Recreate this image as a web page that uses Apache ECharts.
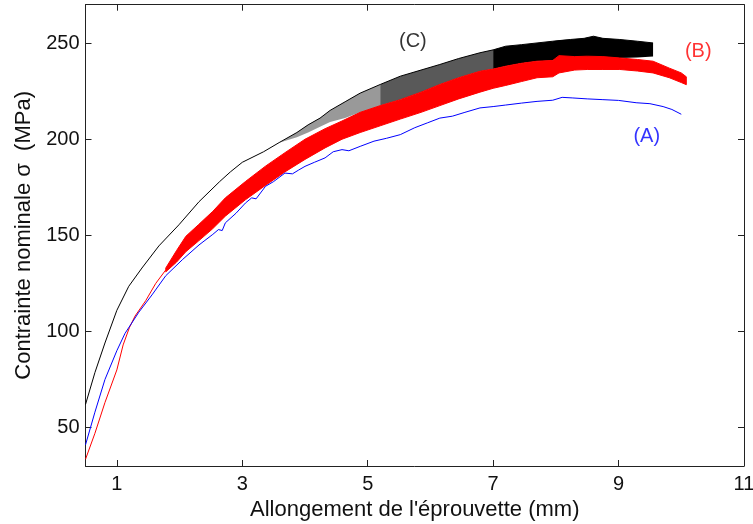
<!DOCTYPE html>
<html>
<head>
<meta charset="utf-8">
<script src="https://cdn.jsdelivr.net/npm/echarts@6/dist/echarts.min.js"></script>
<style>html,body{margin:0;padding:0;background:#fff}#c{width:753px;height:524px}</style>
</head>
<body>
<div id="c"></div>
<script>
// ---- tick labels ----
const xTicks = [1, 3, 5, 7, 9, 11];
const yTicks = [50, 100, 150, 200, 250];

// ---- curve (A), blue ----
const xA = [0.5,0.65,0.81,1.0,1.13,1.35,1.56,1.78,2.05,2.31,2.53,2.62,2.68,2.73,2.9,3.05,3.15,3.22,3.37,3.5,3.68,3.8,3.9,4.0,4.15,4.32,4.45,4.59,4.7,4.88,5.1,5.3,5.52,5.75,5.95,6.15,6.35,6.55,6.79,7.0,7.2,7.45,7.7,7.95,8.1,8.26,8.5,8.75,9.0,9.28,9.5,9.71,9.85,10.0];
const yA = [41,58,75,90,99,110,119,129,137.5,145,150.5,153,152.5,156.5,161.5,166.8,169.5,169,175.5,178,182.4,182,184,185.9,188,190.3,193.5,194.6,194,196.3,199,200.5,202.4,206,208.5,211,212,214,216.3,217,217.8,218.8,219.7,220.3,221.8,221.5,221,220.6,220.2,219,218.5,217,215.5,213];

// ---- curve (B), red: thin start then serrated band ----
const xB = [0.5,0.65,0.81,1.0,1.1,1.2,1.29,1.46,1.62,1.78];
const yB = [33.5,47,63,80,93,102,108,116,125,132];
const xBband = [1.78,1.95,2.1,2.3,2.53,2.73,3.05,3.37,3.68,4.0,4.32,4.59,4.88,5.2,5.52,5.85,6.15,6.45,6.79,7.0,7.2,7.45,7.7,7.95,8.05,8.3,8.5,8.75,9.02,9.3,9.55,9.81,10.0,10.08];
const yBlow = [131,136,141.5,147,153.5,160,168.5,176,183,189.5,195.5,200,203.5,207,210.5,214,217.5,221,224.5,226.5,228,230,232,232.5,234.5,236,236.3,236.3,236.3,235.5,234.5,232,229.5,228.4];
const yBhigh = [133,142,149.5,155.5,162.5,169.5,178,186,193,200,205.5,209.5,214,217.5,220.6,224.5,228.5,232,235.4,236.5,238,239.5,240.6,241,243.5,243,243.2,243,242.3,241.5,240.6,237,234.5,232.5];

// ---- curve (C), black: upper line plus serration bands ----
const xC = [0.5,0.65,0.81,1.0,1.19,1.4,1.67,1.99,2.31,2.64,2.81,3.0,3.34,3.6,3.87,4.05,4.24,4.4,4.64,4.88,5.2,5.52,5.85,6.15,6.45,6.79,7.0,7.2,7.45,7.7,7.95,8.23,8.45,8.6,8.75,9.02,9.3,9.55];
const yC = [62,78.6,94,111,123.5,133,144.5,155.5,167.5,178,183,188,193.5,198.5,203.5,207.5,211,215,219.5,224,228.5,232.8,236,238.9,242,245,246.5,248.4,249.2,250.1,251,251.9,252.5,253.6,252.5,251.9,251,250.1];
const xCsparse1 = [3.6,3.87,4.05,4.24,4.4,4.64,4.88,5.2];
const yCsparse1Low = [198.3,201,203.5,206.5,209,211,214,217.5];
const yCsparse1High = [198.5,203.5,207.5,211,215,219.5,224,228.5];
const xCsparse2 = [5.2,5.52,5.85,6.15,6.45,6.79,7.0];
const yCsparse2Low = [217.5,220.6,224.5,228.5,232,235.4,236.5];
const yCsparse2High = [228.5,232.8,236,238.9,242,245,246.5];
const xCdense = [7.0,7.2,7.45,7.7,7.95,8.05,8.23,8.45,8.6,8.75,9.02,9.3,9.55];
const yCdenseLow = [236.5,238,239.5,240.6,241,242.5,242.5,242.5,242.5,242.5,242.3,242.5,243];
const yCdenseHigh = [246.5,248.4,249.2,250.1,251,251.5,251.9,252.5,253.6,252.5,251.9,251,250.1];

// ---- curve annotations ----
const annNames = ['(C)', '(B)', '(A)'];
const annX = [5.72, 10.27, 9.45];
const annY = [250.8, 245.6, 201.4];
const annColors = ['#000000', '#ff0000', '#0000ff'];

const pairs = (xs, ys) => xs.map((x, i) => [x, ys[i]]);

// filled band between two envelopes, drawn through the axes with api.coord
function band(xs, lo, hi, color, opacity, edge) {
  return {
    type: 'custom', silent: true, clip: true,
    data: xs.map((x, i) => [x, lo[i], hi[i]]),
    encode: { x: 0, y: [1, 2] },
    renderItem: function (params, api) {
      if (params.dataIndex !== 0) return null;
      const pts = [];
      for (let i = 0; i < xs.length; i++) pts.push(api.coord([xs[i], hi[i]]));
      for (let i = xs.length - 1; i >= 0; i--) pts.push(api.coord([xs[i], lo[i]]));
      return {
        type: 'polygon',
        shape: { points: pts },
        style: { fill: color, opacity: opacity, stroke: edge ? color : null, lineWidth: edge ? 1 : 0 }
      };
    }
  };
}

const FONT = 'Liberation Sans, Arial, sans-serif';
const axisCommon = {
  type: 'value',
  axisLine: { show: true, onZero: false, lineStyle: { color: '#222', width: 1 } },
  splitLine: { show: false },
  axisTick: { show: true, inside: true, length: 6, lineStyle: { color: '#222' } }
};

const chart = echarts.init(document.getElementById('c'), null, { renderer: 'canvas' });
chart.setOption({
  animation: false,
  backgroundColor: '#fff',
  grid: { left: 85.5, right: 9, top: 4.7, bottom: 58, containLabel: false, outerBoundsMode: 'none' },
  xAxis: [
    Object.assign({}, axisCommon, {
      min: 0.5, max: 11, position: 'bottom',
      axisTick: Object.assign({}, axisCommon.axisTick, { customValues: xTicks }),
      axisLabel: { customValues: xTicks, fontSize: 20, fontFamily: FONT, color: '#111', margin: 8 },
      name: "Allongement de l'éprouvette (mm)", nameLocation: 'middle', nameGap: 30,
      nameTextStyle: { fontSize: 22, fontFamily: FONT, color: '#111' }
    }),
    Object.assign({}, axisCommon, {
      min: 0.5, max: 11, position: 'top',
      axisTick: Object.assign({}, axisCommon.axisTick, { customValues: xTicks }),
      axisLabel: { show: false, customValues: xTicks }
    })
  ],
  yAxis: [
    Object.assign({}, axisCommon, {
      min: 30, max: 270, position: 'left',
      axisTick: Object.assign({}, axisCommon.axisTick, { customValues: yTicks }),
      axisLabel: { customValues: yTicks, fontSize: 20, fontFamily: FONT, color: '#111', margin: 6 },
      name: 'Contrainte nominale σ  (MPa)', nameLocation: 'middle', nameGap: 48,
      nameTextStyle: { fontSize: 22, fontFamily: FONT, color: '#111' }
    }),
    Object.assign({}, axisCommon, {
      min: 30, max: 270, position: 'right',
      axisTick: Object.assign({}, axisCommon.axisTick, { customValues: yTicks }),
      axisLabel: { show: false, customValues: yTicks }
    })
  ],
  series: [
    band(xCsparse1, yCsparse1Low, yCsparse1High, '#000000', 0.4, false),
    band(xCsparse2, yCsparse2Low, yCsparse2High, '#000000', 0.65, false),
    band(xCdense, yCdenseLow, yCdenseHigh, '#000000', 1, false),
    { type: 'line', data: pairs(xC, yC), showSymbol: false, symbol: 'none',
      lineStyle: { color: '#000000', width: 1 }, silent: true },
    { type: 'line', data: pairs(xB, yB), showSymbol: false, symbol: 'none',
      lineStyle: { color: '#ff0000', width: 1 }, silent: true },
    band(xBband, yBlow, yBhigh, '#ff0000', 1, true),
    { type: 'line', data: pairs(xA, yA), showSymbol: false, symbol: 'none',
      lineStyle: { color: '#0000ff', width: 1 }, silent: true },
    { type: 'scatter', symbolSize: 0, silent: true,
      data: annNames.map((n, i) => ({ value: [annX[i], annY[i]], name: n,
        label: { show: true, position: 'inside', formatter: n, color: annColors[i], fontSize: 20, fontFamily: FONT } })) }
  ]
});
</script>
</body>
</html>
